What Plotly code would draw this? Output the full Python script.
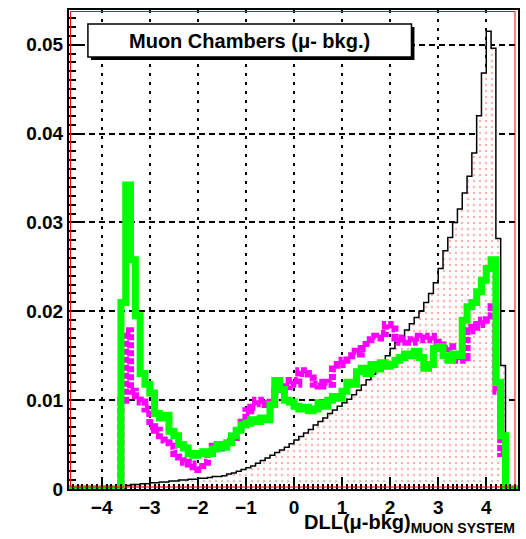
import numpy as np
import plotly.graph_objects as go

# Binning of the DLL(mu-bkg) histograms
BIN_WIDTH = 0.1
FULL_LO, FULL_HI = -4.7, 4.7

# Muon sample (black outline, red dotted fill), bins starting at -3.5
muon_start = -3.5
muon_vals = [
    0.0004, 0.0005, 0.0005, 0.0006, 0.0006, 0.0007, 0.0007, 0.0008, 0.0008, 0.0009,
    0.0009, 0.0010, 0.0010, 0.0011, 0.0011, 0.0012, 0.0012, 0.0013, 0.0014, 0.0014,
    0.0015, 0.0017, 0.0018, 0.0020, 0.0022, 0.0024, 0.0026, 0.0029, 0.0032, 0.0035,
    0.0038, 0.0041, 0.0044, 0.0047, 0.0051, 0.0055, 0.0059, 0.0063, 0.0067, 0.0072,
    0.0076, 0.0080, 0.0085, 0.0089, 0.0093, 0.0097, 0.0101, 0.0106, 0.0111, 0.0117,
    0.0123, 0.0129, 0.0135, 0.0142, 0.0150, 0.0158, 0.0165, 0.0172, 0.0179, 0.0186,
    0.0193, 0.0200, 0.0210, 0.0220, 0.0232, 0.0248, 0.0268, 0.0283, 0.0300, 0.0315,
    0.0333, 0.0352, 0.0378, 0.0420, 0.0468, 0.0515, 0.0496, 0.0282, 0.0139,
]

# Background sample (magenta), bins starting at -3.6
magenta_start = -3.6
magenta_vals = [
    0.0100, 0.0178, 0.0110, 0.0105, 0.0098, 0.0090, 0.0070, 0.0066, 0.0055, 0.0052,
    0.0048, 0.0040, 0.0036, 0.0030, 0.0028, 0.0025, 0.0022, 0.0030, 0.0040, 0.0048,
    0.0046, 0.0050, 0.0054, 0.0058, 0.0065, 0.0075, 0.0088, 0.0092, 0.0100, 0.0096,
    0.0095, 0.0102, 0.0110, 0.0112, 0.0115, 0.0122, 0.0118, 0.0133, 0.0130, 0.0125,
    0.0118, 0.0116, 0.0120, 0.0118, 0.0135, 0.0140, 0.0145, 0.0150, 0.0155, 0.0152,
    0.0158, 0.0168, 0.0172, 0.0170, 0.0175, 0.0185, 0.0180, 0.0170, 0.0165, 0.0168,
    0.0165, 0.0172, 0.0170, 0.0168, 0.0172, 0.0165, 0.0162, 0.0158, 0.0160, 0.0150,
    0.0145, 0.0148, 0.0178, 0.0182, 0.0185, 0.0190, 0.0195, 0.0205, 0.0110, 0.0040,
]

# Background sample (green), bins starting at -3.6
green_start = -3.6
green_vals = [
    0.0210, 0.0342, 0.0258, 0.0195, 0.0130, 0.0118, 0.0108, 0.0085, 0.0080, 0.0083,
    0.0065, 0.0060, 0.0050, 0.0046, 0.0040, 0.0038, 0.0040, 0.0042, 0.0040, 0.0045,
    0.0050, 0.0047, 0.0052, 0.0060, 0.0066, 0.0072, 0.0074, 0.0078, 0.0076, 0.0080,
    0.0078, 0.0095, 0.0122, 0.0112, 0.0100, 0.0098, 0.0093, 0.0090, 0.0092, 0.0088,
    0.0090, 0.0097, 0.0093, 0.0100, 0.0104, 0.0102, 0.0110, 0.0120, 0.0118, 0.0132,
    0.0136, 0.0130, 0.0140, 0.0135, 0.0142, 0.0138, 0.0140, 0.0145, 0.0148, 0.0152,
    0.0150, 0.0155, 0.0148, 0.0136, 0.0140, 0.0158, 0.0160, 0.0150, 0.0145, 0.0152,
    0.0150, 0.0190, 0.0205, 0.0210, 0.0222, 0.0235, 0.0248, 0.0258, 0.0120, 0.0060,
]

x_ticks = [-4, -3, -2, -1, 0, 1, 2, 3, 4]
y_ticks = [0, 0.01, 0.02, 0.03, 0.04, 0.05]
y_ticklabels = ["0", "0.01", "0.02", "0.03", "0.04", "0.05"]

n_full = int(round((FULL_HI - FULL_LO) / BIN_WIDTH))
edges = FULL_LO + BIN_WIDTH * np.arange(n_full + 1)


def full_hist(start, vals):
    """Place a partial histogram into the full binning (empty bins elsewhere)."""
    off = int(round((start - FULL_LO) / BIN_WIDTH))
    h = np.zeros(n_full)
    h[off:off + len(vals)] = vals
    return h


def step_y(h):
    return np.append(h, h[-1])


muon_h = full_hist(muon_start, muon_vals)
magenta_h = full_hist(magenta_start, magenta_vals)
green_h = full_hist(green_start, green_vals)

FONT = "Liberation Sans, Arial, sans-serif"

fig = go.Figure()
fig.add_trace(go.Scatter(
    x=edges, y=step_y(muon_h), mode="lines", line_shape="hv",
    line=dict(color="black", width=1.5),
    fill="tozeroy",
    fillpattern=dict(shape=".", fgcolor="rgba(255,60,60,0.8)", bgcolor="white",
                     size=6, solidity=0.12),
    hoverinfo="skip", showlegend=False,
))
fig.add_trace(go.Scatter(
    x=edges, y=step_y(magenta_h), mode="lines", line_shape="hv",
    line=dict(color="#ff00ff", width=7, dash="6px,2px"),
    hoverinfo="skip", showlegend=False,
))
fig.add_trace(go.Scatter(
    x=edges, y=step_y(green_h), mode="lines", line_shape="hv",
    line=dict(color="#00ff00", width=7),
    hoverinfo="skip", showlegend=False,
))

# plot-area geometry in pixels
W, H = 526, 539
L, R, T, B = 69, 6, 10, 50
pw, ph = W - L - R, H - T - B


def px_x(p):
    return (p - L) / pw


def px_y(p):
    return (H - B - p) / ph


fig.update_layout(
    width=W, height=H, autosize=False,
    margin=dict(l=L, r=R, t=T, b=B, pad=0),
    paper_bgcolor="white", plot_bgcolor="white",
    font=dict(family=FONT, size=19, color="black"),
    xaxis=dict(
        range=[-4.68, 4.66], tickmode="array", tickvals=x_ticks,
        ticks="inside", ticklen=12, tickwidth=1.5, tickcolor="black",
        minor=dict(dtick=0.1, tick0=0, ticks="inside", ticklen=5,
                   tickwidth=1.5, tickcolor="black", showgrid=False),
        showgrid=True, gridcolor="black", gridwidth=2, griddash="3px,6px",
        showline=True, linecolor="black", linewidth=2, mirror=True,
        zeroline=False,
        tickfont=dict(family=FONT, size=19, color="black", weight="bold"),
    ),
    yaxis=dict(
        range=[0, 0.0539], tickmode="array", tickvals=y_ticks,
        ticktext=y_ticklabels,
        ticks="inside", ticklen=14, tickwidth=1.5, tickcolor="black",
        minor=dict(dtick=0.001, tick0=0, ticks="inside", ticklen=7,
                   tickwidth=1.5, tickcolor="black", showgrid=False),
        showgrid=True, gridcolor="black", gridwidth=2, griddash="6px,4px",
        showline=True, linecolor="black", linewidth=2, mirror=True,
        zeroline=False,
        tickfont=dict(family=FONT, size=19, color="black", weight="bold"),
    ),
)

shapes = [
    # red inner frame
    dict(type="rect", xref="paper", yref="paper",
         x0=px_x(70.5), x1=px_x(517), y0=px_y(487), y1=px_y(11.5),
         line=dict(color="red", width=1), fillcolor="rgba(0,0,0,0)", layer="above"),
    # title box shadow and box
    dict(type="rect", xref="paper", yref="paper",
         x0=px_x(91), x1=px_x(416), y0=px_y(60), y1=px_y(27),
         line=dict(width=0), fillcolor="black", layer="above"),
    dict(type="rect", xref="paper", yref="paper",
         x0=px_x(88), x1=px_x(413), y0=px_y(57), y1=px_y(24),
         line=dict(color="black", width=1.5), fillcolor="white", layer="above"),
]
fig.update_layout(shapes=shapes)

fig.add_annotation(
    xref="paper", yref="paper", x=px_x(250.5), y=px_y(41),
    xanchor="center", yanchor="middle", showarrow=False,
    text="Muon Chambers (μ- bkg.)",
    font=dict(family=FONT, size=20, color="black", weight="bold"),
)
fig.add_annotation(
    xref="paper", yref="paper", x=px_x(519), y=px_y(509),
    xanchor="right", yanchor="top", showarrow=False,
    text="DLL(μ-bkg)<sub>MUON SYSTEM</sub>",
    font=dict(family=FONT, size=20, color="black", weight="bold"),
)

fig.write_html("out.html")
